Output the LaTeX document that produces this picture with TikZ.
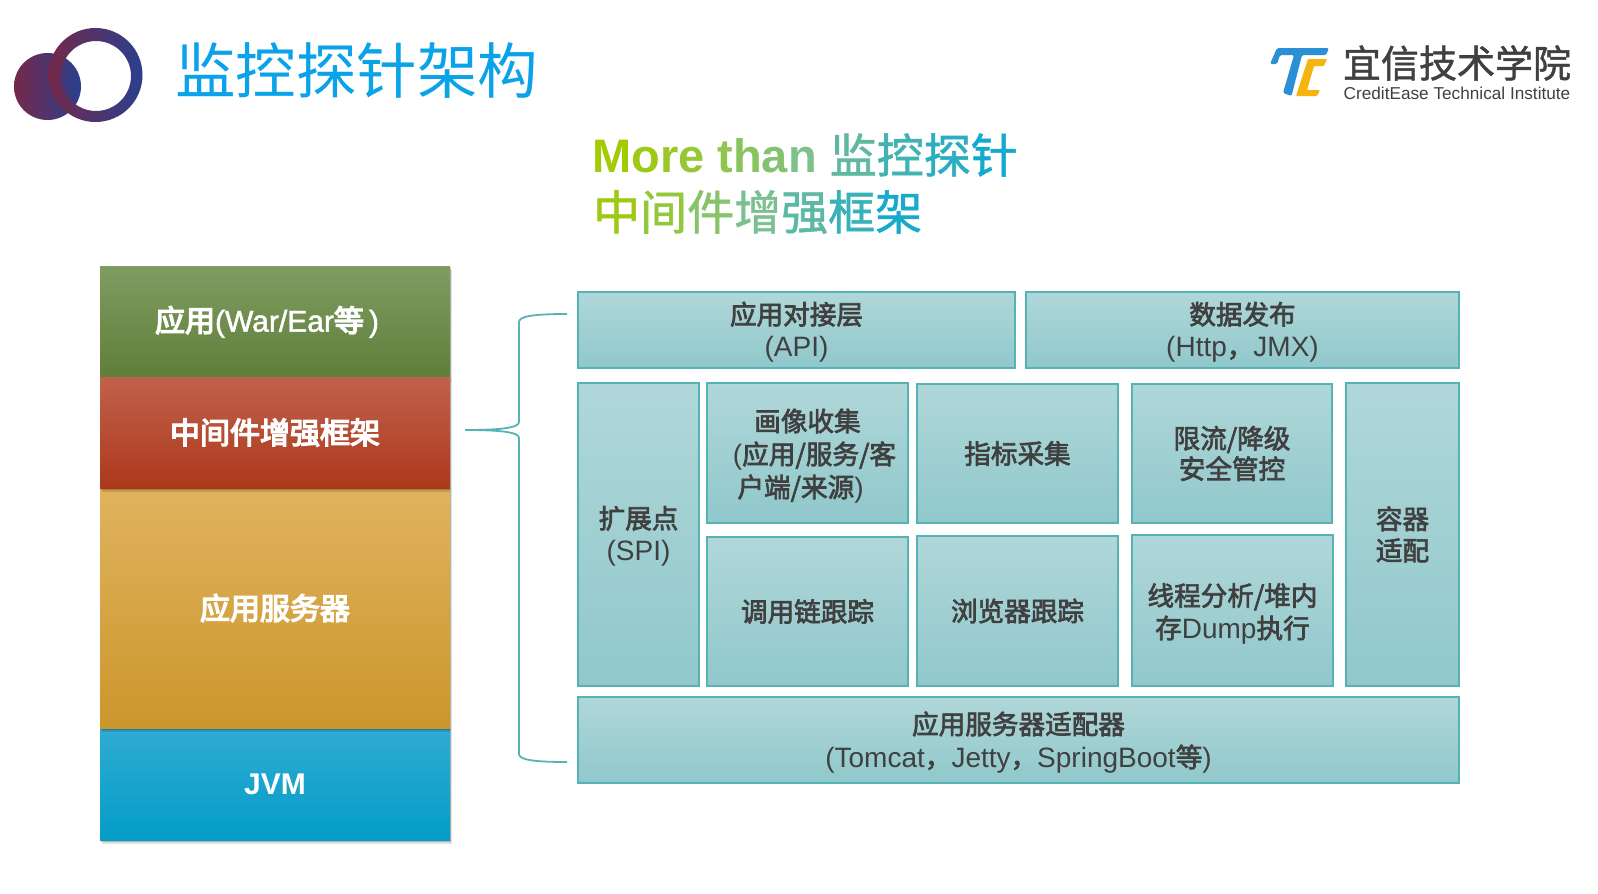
\documentclass[tikz,border=0pt]{standalone}
\usepackage{fontspec}
\setmainfont{Liberation Sans}
\newfontfamily\zh{Noto Sans CJK SC}
\newfontfamily\zhs{Noto Sans CJK SC}[FakeBold=1.2]
\newfontfamily\zhm{Noto Sans CJK SC}[FakeBold=2.6,Scale=0.95]
\newfontfamily\zhb{Noto Sans CJK SC}[FakeBold=4.5]
\newfontfamily\latb{Liberation Sans}[FakeBold=1.5]
\usetikzlibrary{shadows}
\definecolor{teal}{HTML}{55B3B5}
\definecolor{boxtop}{HTML}{B0D7D9}
\definecolor{boxbot}{HTML}{90C8CB}
\definecolor{ink}{HTML}{404040}
\definecolor{titleblue}{HTML}{0AA2E8}
\definecolor{ringl}{HTML}{74294A}
\definecolor{ringr}{HTML}{2B3F8E}
\definecolor{gs}{HTML}{A4CC00}
\definecolor{gm}{HTML}{7CC090}
\definecolor{ge}{HTML}{08A6D6}
\definecolor{logob}{HTML}{2B8FD6}
\definecolor{logoy}{HTML}{F5B40F}
\newcommand{\ga}[2]{\textcolor{gm!#1!gs}{#2}}
\newcommand{\gb}[2]{\textcolor{ge!#1!gm}{#2}}
\newcommand{\zz}[1]{{\zhm #1}}
\newcommand{\zb}[1]{{\zhb #1}}
\newcommand{\dn}[1]{\rule{0pt}{#1}}
\tikzset{
  x=1pt,y=-1pt,
  modbox/.style={draw=teal,line width=2pt,top color=boxtop,bottom color=boxbot,inner sep=0pt,outer sep=0pt,
    text=ink,align=center,anchor=north west,font=\fontsize{28}{32.5}\selectfont},
  stack/.style={inner sep=0pt,outer sep=0pt,text=white,align=center,anchor=north west,minimum width=350pt,
    font=\fontsize{30}{34}\selectfont,
    drop shadow={shadow xshift=2pt,shadow yshift=-4pt,opacity=.12,fill=black},
    drop shadow={shadow xshift=1pt,shadow yshift=-2pt,opacity=.2,fill=black}},
  brace/.style={draw=teal,line width=1.8pt,line join=round},
}
\begin{document}
\begin{tikzpicture}
\useasboundingbox (0,0) rectangle (1598,894);
\fill[white] (0,0) rectangle (1598,894);
% round logo
\shade[left color=ringl,right color=ringr] (47.5,86.5) circle (33.5);
\shade[even odd rule,left color=ringl,right color=ringr] (95.5,75) circle (47) (96,76) circle (35);
% title
\node[anchor=west,inner sep=0pt,text=titleblue] (title) at (175,71) {\zh\fontsize{60.5}{60}\selectfont 监控探针架构};
% TC logo
\fill[logob,rounded corners=1.5pt]
  (1277,48) -- (1329,48) -- (1326,55) -- (1302,55) -- (1291.5,96) -- (1283,93) -- (1294,55) -- (1280,55) -- (1277,64) -- (1270,64) -- cycle;
\fill[logoy,rounded corners=1pt]
  (1308,59) -- (1327,59) -- (1324,66) -- (1314,66) -- (1307,90) -- (1320,90) -- (1317,96) -- (1296,96) -- cycle;
\node[inner sep=0pt,text=ink] (brandzh) at (1457,63) {\zhs\fontsize{38}{38}\selectfont 宜信技术学院};
\node[inner sep=0pt,text=ink] (branden) at (1457,93) {\fontsize{17.2}{18}\selectfont CreditEase Technical Institute};
% subtitle
\node[anchor=west,inner sep=0pt] (sub1) at (592,155) {\fontsize{47}{50}\selectfont\bfseries
  \ga{4}{M}\ga{16}{o}\ga{26}{r}\ga{36}{e}\ \ga{54}{t}\ga{66}{h}\ga{80}{a}\ga{96}{n}\ {\zhs\mdseries
  \gb{25}{监}\gb{50}{控}\gb{70}{探}\gb{90}{针}}};
\node[anchor=west,inner sep=0pt] (sub2) at (593,212) {\zhs\fontsize{47}{50}\selectfont
  \ga{14}{中}\ga{42}{间}\ga{72}{件}\ga{100}{增}\gb{28}{强}\gb{58}{框}\gb{86}{架}};
% left stack
\node[stack,minimum height=112pt,top color={rgb,255:red,127;green,157;blue,97},middle color={rgb,255:red,108;green,143;blue,72},bottom color={rgb,255:red,95;green,126;blue,58}] (app) at (100,266) {\hspace*{-16pt}\zb{应用}{\latb(War/Ear}\zb{等}{\latb\,)}};
\node[stack,minimum height=112pt,top color={rgb,255:red,48;green,171;blue,212},middle color={rgb,255:red,8;green,166;blue,212},bottom color={rgb,255:red,3;green,157;blue,198}] (jvm) at (100,728) {{\bfseries JVM}};
\node[stack,minimum height=240pt,top color={rgb,255:red,224;green,179;blue,94},middle color={rgb,255:red,226;green,173;blue,64},bottom color={rgb,255:red,204;green,150;blue,44}] (srv) at (100,488) {\zb{应用服务器}};
\node[stack,minimum height=111pt,top color={rgb,255:red,192;green,97;blue,77},middle color={rgb,255:red,186;green,70;blue,38},bottom color={rgb,255:red,173;green,57;blue,27}] (mid) at (100,377) {\zb{中间件增强框架}};
% brace
\coordinate (bt) at (567,314);
\coordinate (bm) at (465,430);
\coordinate (bb) at (567,762);
\draw[brace] (bt) .. controls (535,314) and (519,316) .. (519,322) -- (519,422) .. controls (519,428) and (500,430) .. (bm);
\draw[brace] (bm) .. controls (500,430) and (519,432) .. (519,438) -- (519,754) .. controls (519,760) and (535,762) .. (bb);
% boxes
\node[modbox,minimum width=437pt,minimum height=76pt] (api) at (578,292) {\dn{27pt}\zz{应用对接层}\\(API)};
\node[modbox,minimum width=433pt,minimum height=76pt] (pub) at (1026,292) {\dn{27pt}\zz{数据发布}\\(Http\zz{，}JMX)};
\node[modbox,minimum width=121pt,minimum height=303pt] (spi) at (578,383) {\dn{26pt}\zz{扩展点}\\(SPI)};
\node[modbox,minimum width=201pt,minimum height=140pt] (img) at (707,383) {\dn{28pt}\zz{画像收集}\\[0.5pt]\hspace*{14pt}(\zz{应用/服务/客}\\[0.5pt]\zz{户端/来源})\hspace*{14pt}};
\node[modbox,minimum width=201pt,minimum height=139pt] (met) at (917,384) {\zz{指标采集}};
\node[modbox,minimum width=200pt,minimum height=139pt] (lim) at (1132,384) {\zz{限流/降级}\\[-2pt]\zz{安全管控}};
\node[modbox,minimum width=201pt,minimum height=149pt] (trc) at (707,537) {\zz{调用链跟踪}};
\node[modbox,minimum width=201pt,minimum height=150pt] (brw) at (917,536) {\zz{浏览器跟踪}};
\node[modbox,minimum width=201pt,minimum height=151pt] (thr) at (1132,535) {\dn{28.5pt}\zz{线程分析/堆内}\\\zz{存}Dump\zz{执行}};
\node[modbox,minimum width=113pt,minimum height=303pt] (ctn) at (1346,383) {\zz{容器}\\[-1pt]\zz{适配}};
\node[modbox,minimum width=881pt,minimum height=86pt] (ada) at (578,697) {\dn{27pt}\zz{应用服务器适配器}\\[0.5pt](Tomcat\zz{，}Jetty\zz{，}SpringBoot\zz{等})};
\end{tikzpicture}
\end{document}
